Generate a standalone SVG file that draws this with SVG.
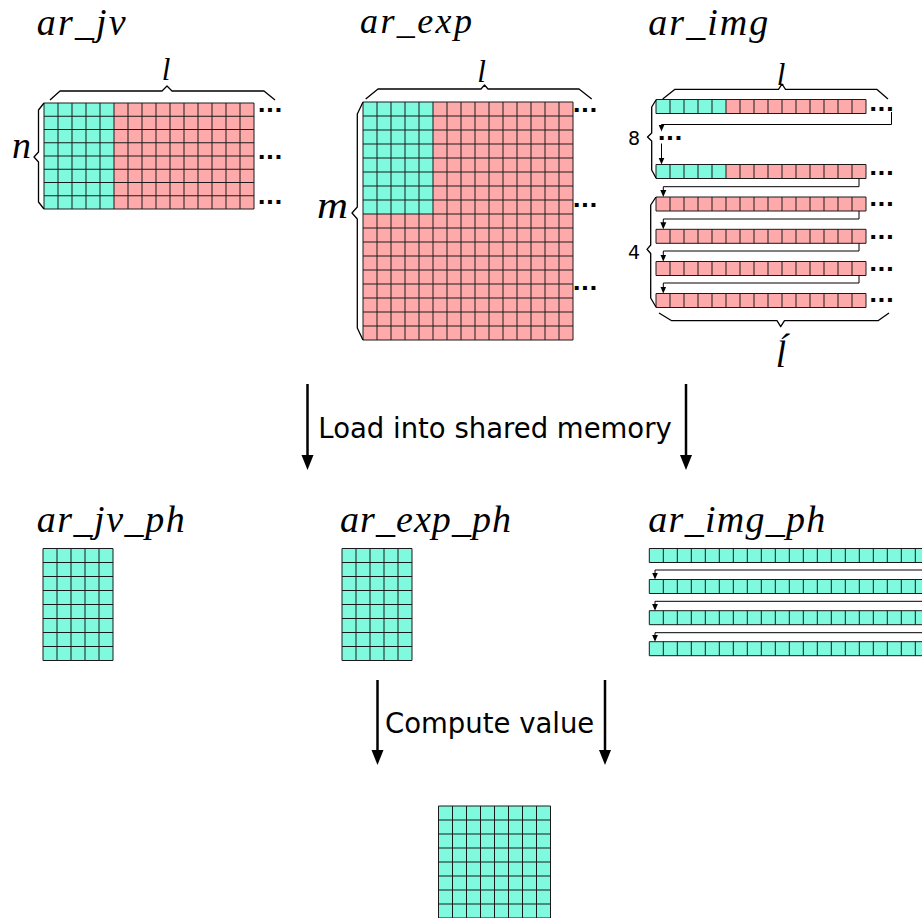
<svg xmlns="http://www.w3.org/2000/svg" xmlns:xlink="http://www.w3.org/1999/xlink" width="922" height="918" viewBox="0 0 922 918">
<style>
.cy{fill:#7ffadf}
.pk{fill:#ffaaaa}
.gl{fill:none;stroke:#1a1a1a;stroke-width:1}
.br{fill:none;stroke:#000;stroke-width:1.3;stroke-linejoin:round}
.ttl{font-family:"Liberation Serif",serif;font-style:italic;font-size:38px;fill:#000}
.var{font-family:"Liberation Serif",serif;font-style:italic;font-size:31px;fill:#000}
.dots{font-family:"DejaVu Sans",sans-serif;font-weight:bold;font-size:22px;fill:#000}
.num{font-family:"DejaVu Sans",sans-serif;font-size:19px;fill:#000}
.lbl{font-family:"DejaVu Sans",sans-serif;font-size:27.5px;fill:#000}
.big{fill:none;stroke:#000;stroke-width:2.5}
.sm{fill:none;stroke:#000;stroke-width:1}
</style>
<defs>
  <marker id="headL" markerUnits="userSpaceOnUse" markerWidth="16" markerHeight="14" viewBox="0 -7 16 14" refX="5" refY="0" orient="auto">
    <path d="M0,-6 L15,0 L0,6 z" fill="#000"/>
  </marker>
  <marker id="headS" markerUnits="userSpaceOnUse" markerWidth="8" markerHeight="8" viewBox="0 -4 8 8" refX="5" refY="0" orient="auto">
    <path d="M0,-3 L7,0 L0,3 z" fill="#000"/>
  </marker>
  <!-- one strip of 15 cells, 14 px each -->
  <path id="row15" class="gl" d="M0,0H210M0,14H210M0,0V14M14,0V14M28,0V14M42,0V14M56,0V14M70,0V14M84,0V14M98,0V14M112,0V14M126,0V14M140,0V14M154,0V14M168,0V14M182,0V14M196,0V14M210,0V14"/>
  <g id="rowMix"><rect class="cy" width="70" height="14"/><rect class="pk" x="70" width="140" height="14"/><use xlink:href="#row15"/></g>
  <g id="rowPink"><rect class="pk" width="210" height="14"/><use xlink:href="#row15"/></g>
  <!-- strip of 20 shared-memory cells -->
  <g id="rowCy20"><rect class="cy" width="280" height="14"/>
    <path class="gl" d="M0,0H280M0,14H280M0,0V14M14,0V14M28,0V14M42,0V14M56,0V14M70,0V14M84,0V14M98,0V14M112,0V14M126,0V14M140,0V14M154,0V14M168,0V14M182,0V14M196,0V14M210,0V14M224,0V14M238,0V14M252,0V14M266,0V14M280,0V14"/></g>
  <!-- 5 x 8 tile -->
  <g id="tile5x8"><rect class="cy" width="70" height="112"/>
    <path class="gl" d="M0,0V112M14,0V112M28,0V112M42,0V112M56,0V112M70,0V112M0,0H70M0,14H70M0,28H70M0,42H70M0,56H70M0,70H70M0,84H70M0,98H70M0,112H70"/></g>
  <!-- 8 x 8 tile -->
  <g id="tile8x8"><rect class="cy" width="112" height="112"/>
    <path class="gl" d="M0,0V112M14,0V112M28,0V112M42,0V112M56,0V112M70,0V112M84,0V112M98,0V112M112,0V112M0,0H112M0,14H112M0,28H112M0,42H112M0,56H112M0,70H112M0,84H112M0,98H112M0,112H112"/></g>
</defs>

<rect width="922" height="918" fill="#fff"/>

<g id="ar_jv">
  <text class="ttl" x="36.7" y="35" textLength="89" lengthAdjust="spacing">ar_jv</text>
  <rect class="cy" x="44" y="103" width="70" height="106"/>
  <rect class="pk" x="114" y="103" width="140" height="106"/>
  <path class="gl" d="M44,103V209M58,103V209M72,103V209M86,103V209M100,103V209M114,103V209M128,103V209M142,103V209M156,103V209M170,103V209M184,103V209M198,103V209M212,103V209M226,103V209M240,103V209M254,103V209M44,103H254M44,116.25H254M44,129.5H254M44,142.75H254M44,156H254M44,169.25H254M44,182.5H254M44,195.75H254M44,209H254"/>
  <path class="br" d="M50,100 L60,91 L162,91 L167,86 L172,91 L264,91 L275,100"/>
  <text class="var" x="166" y="80" text-anchor="middle">l</text>
  <path class="br" d="M44,103 L38.5,110 L38.5,152 L34,157 L38.5,162 L38.5,202 L44,209"/>
  <text class="ttl" x="12" y="158">n</text>
  <text class="dots" x="257.5" y="112">...</text>
  <text class="dots" x="257.5" y="159.2">...</text>
  <text class="dots" x="257.5" y="203.6">...</text>
</g>

<g id="ar_exp">
  <text class="ttl" x="360" y="33" textLength="112" lengthAdjust="spacing" style="font-size:36px">ar_exp</text>
  <rect class="pk" x="363" y="102" width="210" height="238"/>
  <rect class="cy" x="363" y="102" width="70" height="112"/>
  <path class="gl" d="M363,102V340M377,102V340M391,102V340M405,102V340M419,102V340M433,102V340M447,102V340M461,102V340M475,102V340M489,102V340M503,102V340M517,102V340M531,102V340M545,102V340M559,102V340M573,102V340M363,102H573M363,116H573M363,130H573M363,144H573M363,158H573M363,172H573M363,186H573M363,200H573M363,214H573M363,228H573M363,242H573M363,256H573M363,270H573M363,284H573M363,298H573M363,312H573M363,326H573M363,340H573"/>
  <path class="br" d="M365.7,99 L378,89 L481,89 L484.5,85 L488,89 L579,89 L591.7,99"/>
  <text class="var" x="481.5" y="81.7" text-anchor="middle">l</text>
  <path class="br" d="M363,102 L357.3,114 L357.3,207 L352,213 L357.3,219 L357.3,328 L363,340"/>
  <text class="ttl" x="317" y="218" textLength="31" lengthAdjust="spacingAndGlyphs">m</text>
  <text class="dots" x="572.5" y="112">...</text>
  <text class="dots" x="572.5" y="207">...</text>
  <text class="dots" x="572.5" y="290.3">...</text>
</g>

<g id="ar_img">
  <text class="ttl" x="648.3" y="35" textLength="120" lengthAdjust="spacing">ar_img</text>
  <use xlink:href="#rowMix" x="656" y="99.5"/>
  <use xlink:href="#rowMix" x="656" y="164.5"/>
  <use xlink:href="#rowPink" x="656" y="197"/>
  <use xlink:href="#rowPink" x="656" y="229.3"/>
  <use xlink:href="#rowPink" x="656" y="261.5"/>
  <use xlink:href="#rowPink" x="656" y="293.5"/>
  <path class="br" d="M662.7,99 L675,89.3 L778.5,89.3 L782,84 L785.5,89.3 L876.7,89.3 L888,99"/>
  <text class="var" x="781" y="85" text-anchor="middle">l</text>
  <path class="br" d="M656,100 L651.7,107 L651.7,133 L647.5,137 L651.7,141 L651.7,170 L656,178"/>
  <text class="num" x="628" y="144.5">8</text>
  <path class="br" d="M656,197 L650.7,205 L650.7,245 L647,249.3 L650.7,253.5 L650.7,298 L656,307"/>
  <text class="num" x="628" y="258.5">4</text>
  <path class="br" d="M659,313 L671.7,320.7 L777,320.7 L780.7,326.7 L784.5,320.7 L878,320.7 L889,313"/>
  <text class="var" x="781" y="366.7" text-anchor="middle" style="font-size:37px">ĺ</text>
  <text class="dots" x="869" y="111.2">...</text>
  <text class="dots" x="869" y="174.6">...</text>
  <text class="dots" x="869" y="206">...</text>
  <text class="dots" x="869" y="238.6">...</text>
  <text class="dots" x="869" y="271.2">...</text>
  <text class="dots" x="869" y="302">...</text>
  <text class="dots" x="657.5" y="140.2">...</text>
  <!-- row-to-row order -->
  <path class="sm" marker-end="url(#headS)" d="M891.5,112 V124.5 H661.5 V129.5"/>
  <path class="sm" marker-end="url(#headS)" d="M661.5,143.5 V162.5"/>
  <path class="sm" marker-end="url(#headS)" d="M859,178.5 V186.7 H663.3 V195"/>
  <path class="sm" marker-end="url(#headS)" d="M859,211 V219 H663.3 V227.3"/>
  <path class="sm" marker-end="url(#headS)" d="M859,243.3 V251 H663.3 V259.5"/>
  <path class="sm" marker-end="url(#headS)" d="M859,275.5 V283 H663.3 V291.5"/>
</g>

<g id="ar_jv_ph">
  <text class="ttl" x="36.7" y="532" textLength="148" lengthAdjust="spacing">ar_jv_ph</text>
  <use xlink:href="#tile5x8" x="43" y="548.5"/>
</g>

<g id="ar_exp_ph">
  <text class="ttl" x="340" y="532" textLength="171" lengthAdjust="spacing">ar_exp_ph</text>
  <use xlink:href="#tile5x8" x="342" y="548.5"/>
</g>

<g id="ar_img_ph">
  <text class="ttl" x="648.3" y="532" textLength="177" lengthAdjust="spacing">ar_img_ph</text>
  <use xlink:href="#rowCy20" x="649.3" y="548.5"/>
  <use xlink:href="#rowCy20" x="649.3" y="579.5"/>
  <use xlink:href="#rowCy20" x="649.3" y="610.7"/>
  <use xlink:href="#rowCy20" x="649.3" y="641.7"/>
  <path class="sm" marker-end="url(#headS)" d="M930,570 H655 V577.5"/>
  <path class="sm" marker-end="url(#headS)" d="M930,601.3 H655 V608.7"/>
  <path class="sm" marker-end="url(#headS)" d="M930,632.7 H655 V639.7"/>
</g>

<g id="result">
  <use xlink:href="#tile8x8" x="438.5" y="806"/>
</g>

<g id="connectors">
  <path class="big" marker-end="url(#headL)" d="M307.5,384 V460"/>
  <path class="big" marker-end="url(#headL)" d="M686,384 V460"/>
  <text class="lbl" x="318.3" y="438">Load into shared memory</text>
  <path class="big" marker-end="url(#headL)" d="M377.5,680 V755"/>
  <path class="big" marker-end="url(#headL)" d="M605,680 V755"/>
  <text class="lbl" x="385" y="733">Compute value</text>
</g>
</svg>
